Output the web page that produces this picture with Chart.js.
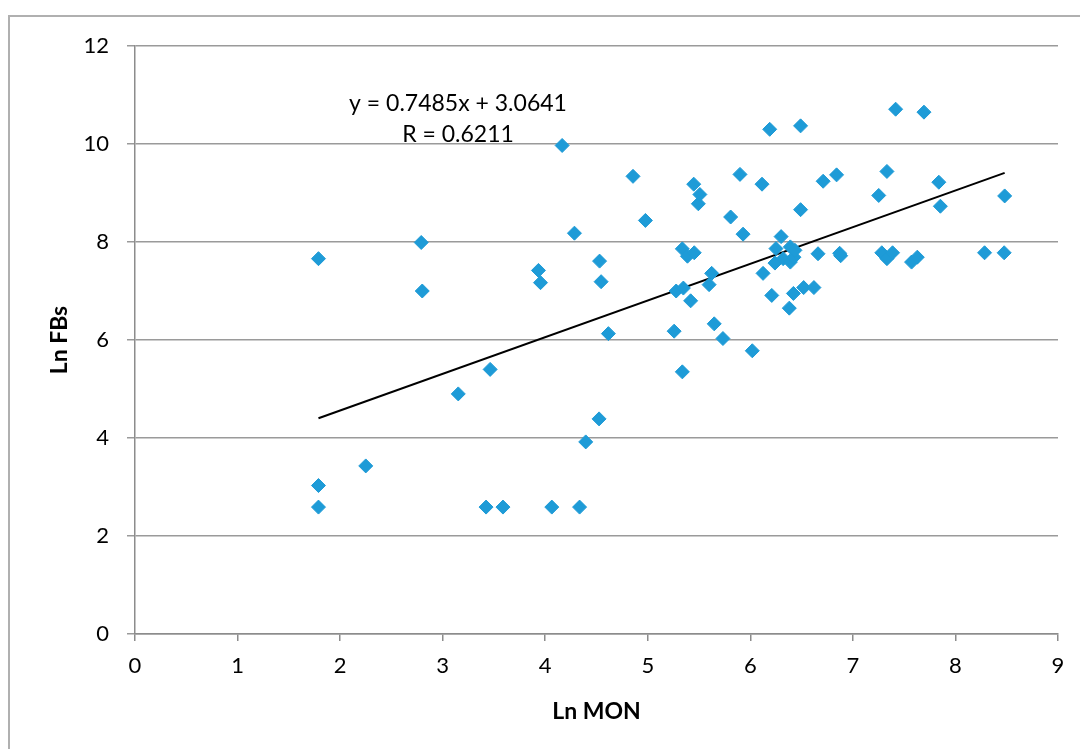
<!DOCTYPE html>
<html lang="en">
<head>
  <meta charset="UTF-8">
  <title>Ln FBs vs Ln MON</title>
  <script src="https://cdn.jsdelivr.net/npm/chart.js"></script>
  <style>
    body {
      margin: 0;
      padding: 0;
      background-color: #fff;
    }
    canvas {
      display: block;
    }
  </style>
</head>
<body>
  <canvas id="scatterChart" width="1080" height="749"></canvas>

  <script>
    // Data
    const lnMon = [
      1.789, 1.789, 1.789, 2.250, 2.791, 2.801, 3.152, 3.463, 3.423, 3.588,
      3.934, 3.954, 4.064, 4.165, 4.285, 4.335, 4.395, 4.525, 4.530, 4.545,
      4.616, 4.856, 4.977, 5.257, 5.277, 5.347, 5.337, 5.337, 5.387, 5.418,
      5.448, 5.453, 5.493, 5.508, 5.598, 5.623, 5.648, 5.733, 5.808, 5.899,
      5.929, 6.019, 6.114, 6.124, 6.189, 6.209, 6.240, 6.250, 6.300, 6.320,
      6.380, 6.390, 6.390, 6.420, 6.425, 6.435, 6.490, 6.490, 6.520, 6.620,
      6.660, 6.710, 6.841, 6.871, 6.881, 7.252, 7.282, 7.332, 7.332, 7.387,
      7.417, 7.572, 7.628, 7.693, 7.838, 7.853, 8.284, 8.475, 8.480
    ];
    const lnFbs = [
      7.66, 3.03, 2.59, 3.43, 7.99, 7.00, 4.90, 5.40, 2.59, 2.59,
      7.42, 7.17, 2.59, 9.97, 8.18, 2.59, 3.92, 4.39, 7.61, 7.19,
      6.13, 9.34, 8.44, 6.18, 7.00, 7.06, 5.35, 7.86, 7.71, 6.80,
      9.18, 7.78, 8.78, 8.97, 7.13, 7.36, 6.33, 6.03, 8.51, 9.38,
      8.16, 5.78, 9.18, 7.36, 10.30, 6.91, 7.57, 7.865, 8.11, 7.66,
      6.65, 7.90, 7.59, 6.95, 7.69, 7.83, 8.66, 10.37, 7.07, 7.07,
      7.76, 9.24, 9.37, 7.77, 7.72, 8.95, 7.78, 7.66, 9.44, 7.78,
      10.71, 7.59, 7.69, 10.65, 9.22, 8.73, 7.78, 7.78, 8.94
    ];
    const xTicks = [0, 1, 2, 3, 4, 5, 6, 7, 8, 9];
    const yTicks = [0, 2, 4, 6, 8, 10, 12];

    // Linear trendline from the equation shown on the chart
    const slope = 0.7485;
    const intercept = 3.0641;
    const equationText = 'y = 0.7485x + 3.0641';
    const rText = 'R = 0.6211';

    const points = lnMon.map((x, i) => ({ x: x, y: lnFbs[i] }));
    const xMin = Math.min(...lnMon);
    const xMax = Math.max(...lnMon);
    const trend = [
      { x: xMin, y: slope * xMin + intercept },
      { x: xMax, y: slope * xMax + intercept }
    ];

    Chart.defaults.font.family = 'Lato, "Open Sans", sans-serif';
    Chart.defaults.color = '#000';

    // white background, outer frame and equation label
    const extras = {
      id: 'extras',
      beforeDraw(chart) {
        const c = chart.ctx;
        c.save();
        c.fillStyle = '#fff';
        c.fillRect(0, 0, chart.width, chart.height);
        c.strokeStyle = '#b0b0b0';
        c.lineWidth = 2;
        c.strokeRect(9, 16, chart.width + 20, chart.height + 20);
        c.restore();
      },
      afterDatasetsDraw(chart) {
        const c = chart.ctx;
        c.save();
        c.fillStyle = '#000';
        c.font = '23px Lato, sans-serif';
        c.textAlign = 'center';
        c.textBaseline = 'middle';
        c.fillText(equationText, 458, 104);
        c.fillText(rText, 458, 135);
        c.restore();
      }
    };

    const ctx = document.getElementById('scatterChart').getContext('2d');
    const scatterChart = new Chart(ctx, {
      type: 'scatter',
      data: {
        datasets: [{
          label: 'Ln FBs',
          data: points,
          pointStyle: 'rectRot',
          pointRadius: 7,
          pointHoverRadius: 7,
          backgroundColor: '#1E9BD7',
          borderColor: '#1E9BD7',
          borderWidth: 1
        }, {
          type: 'line',
          label: 'Linear',
          data: trend,
          borderColor: '#000',
          borderWidth: 2,
          pointRadius: 0,
          fill: false
        }]
      },
      options: {
        responsive: false,
        animation: false,
        layout: {
          padding: { left: 0, top: 46, right: 22, bottom: 0 }
        },
        plugins: {
          legend: { display: false },
          tooltip: { enabled: false }
        },
        scales: {
          x: {
            type: 'linear',
            min: 0,
            max: 9,
            afterBuildTicks: (scale) => { scale.ticks = xTicks.map(v => ({ value: v })); },
            afterFit: (scale) => { scale.height = 115; },
            ticks: {
              font: { size: 22 },
              padding: 12
            },
            grid: {
              drawOnChartArea: false,
              drawTicks: true,
              tickLength: 7,
              color: '#8c8c8c',
              lineWidth: 1.5
            },
            border: { color: '#8c8c8c', width: 1.5 },
            title: {
              display: true,
              text: 'Ln MON',
              font: { size: 23, weight: 'bold' },
              padding: { top: 0, bottom: 24 }
            }
          },
          y: {
            min: 0,
            max: 12,
            afterBuildTicks: (scale) => { scale.ticks = yTicks.map(v => ({ value: v })); },
            afterFit: (scale) => { scale.width = 135; },
            ticks: {
              font: { size: 22 },
              padding: 18
            },
            grid: {
              color: '#9a9a9a',
              lineWidth: 1.5,
              tickLength: 8
            },
            border: { color: '#8c8c8c', width: 1.5 },
            title: {
              display: true,
              text: 'Ln FBs',
              font: { size: 23, weight: 'bold' },
              padding: { top: 46, bottom: 0 }
            }
          }
        }
      },
      plugins: [extras]
    });
  </script>
</body>
</html>
